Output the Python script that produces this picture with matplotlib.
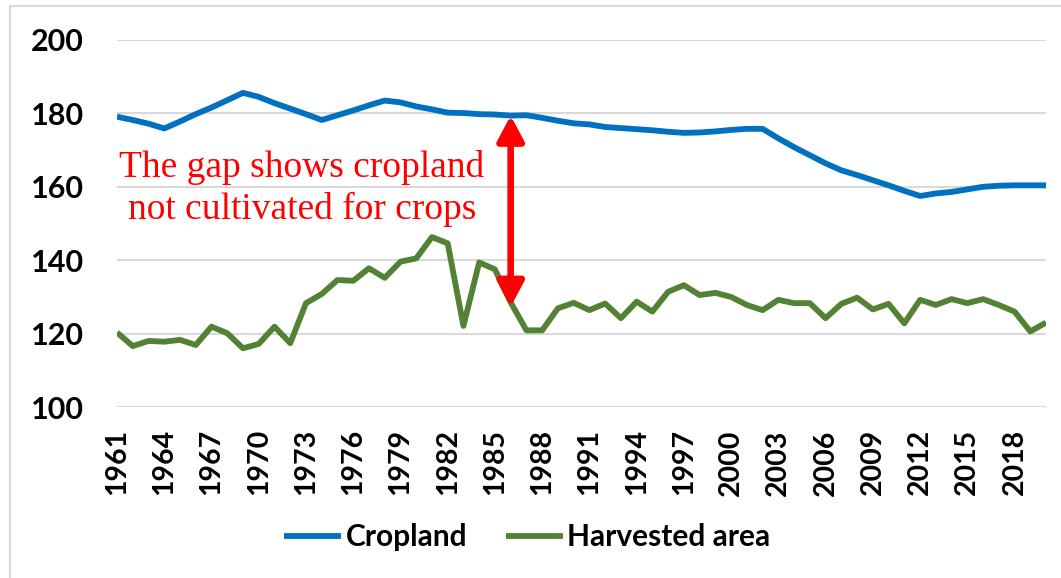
import matplotlib
matplotlib.use("Agg")
from matplotlib import pyplot as plt
from matplotlib.patches import Rectangle
import numpy as np

years = np.arange(1961, 2021)

cropland = [179.1, 178.2, 177.2, 175.9, 177.8, 179.8, 181.6, 183.6, 185.6, 184.5,
            182.8, 181.3, 179.8, 178.2, 179.5, 180.8, 182.2, 183.5, 183.0, 181.9,
            181.1, 180.2, 180.1, 179.8, 179.7, 179.4, 179.5, 178.8, 178.0, 177.3,
            177.0, 176.3, 176.0, 175.7, 175.4, 175.0, 174.7, 174.8, 175.1, 175.5,
            175.8, 175.8, 173.2, 170.8, 168.6, 166.4, 164.5, 163.2, 161.8, 160.4,
            158.9, 157.5, 158.2, 158.6, 159.3, 160.0, 160.3, 160.4, 160.4, 160.4]

harvested = [120.3, 116.6, 118.0, 117.8, 118.3, 116.9, 121.9, 120.1, 116.0, 117.2,
             121.9, 117.4, 128.3, 130.8, 134.6, 134.4, 137.8, 135.2, 139.6, 140.5,
             146.3, 144.6, 122.1, 139.4, 137.5, 128.5, 120.9, 120.9, 126.9, 128.4,
             126.4, 128.2, 124.2, 128.7, 126.0, 131.4, 133.2, 130.5, 131.1, 130.0,
             127.8, 126.4, 129.2, 128.3, 128.3, 124.2, 128.1, 129.8, 126.6, 128.1,
             122.8, 129.2, 127.8, 129.4, 128.3, 129.4, 127.8, 126.0, 120.6, 123.0]

tick_years = list(range(1961, 2019, 3))
y_ticks = [100, 120, 140, 160, 180, 200]

# gap arrow: from cropland down to harvested area in 1986
gap_year = 1986
gap_top = 179.4
gap_bottom = 127.3

blue = "#0070C0"
green = "#548235"
grid_col = "#D9D9D9"

fig = plt.figure(figsize=(10.61, 5.78), dpi=100)
ax = fig.add_axes([0.1103, 0.2958, 0.8756, 0.635])

ax.plot(years, cropland, color=blue, lw=4.2, label="Cropland", solid_capstyle="butt", zorder=3)
ax.plot(years, harvested, color=green, lw=4.2, label="Harvested area", solid_capstyle="butt", zorder=3)

ax.set_xlim(1961, 2020)
ax.set_ylim(100, 200)
ax.set_yticks(y_ticks)
ax.set_xticks(tick_years)
ax.set_xticklabels([str(y) for y in tick_years], rotation=90)
ax.grid(axis="y", color=grid_col, lw=1.5)
ax.set_axisbelow(True)
for s in ax.spines.values():
    s.set_visible(False)
ax.tick_params(axis="y", length=0, pad=24)
ax.tick_params(axis="x", length=0, pad=16)
for lab in ax.get_yticklabels():
    lab.set_fontfamily("Lato")
    lab.set_fontweight("bold")
    lab.set_fontsize(22)
for lab in ax.get_xticklabels():
    lab.set_fontfamily("Lato")
    lab.set_fontweight("bold")
    lab.set_fontsize(20.5)

ax.annotate("", xy=(gap_year, gap_bottom), xytext=(gap_year, gap_top),
            arrowprops=dict(arrowstyle="<|-|>,head_length=15,head_width=8",
                            mutation_scale=1, color="red", lw=4.8,
                            shrinkA=0, shrinkB=0), zorder=4)

ax.text(0.199, 0.595, "The gap shows cropland\nnot cultivated for crops",
        transform=ax.transAxes, ha="center", va="center", multialignment="center",
        color="red", fontsize=27, fontfamily="Liberation Serif", linespacing=1.27)

leg = fig.legend(loc="center", bbox_to_anchor=(0.497, 0.071), ncol=2, frameon=False,
                 handlelength=1.9, handletextpad=0.15, columnspacing=1.3,
                 prop={"family": "Lato", "weight": "bold", "size": 21.5})

fig.add_artist(Rectangle((10 / 1061, -0.1), 1.2, 1.1 - 6 / 578, transform=fig.transFigure,
                         fill=False, edgecolor=grid_col, lw=1.5))

fig.savefig("out.png", dpi=100)
